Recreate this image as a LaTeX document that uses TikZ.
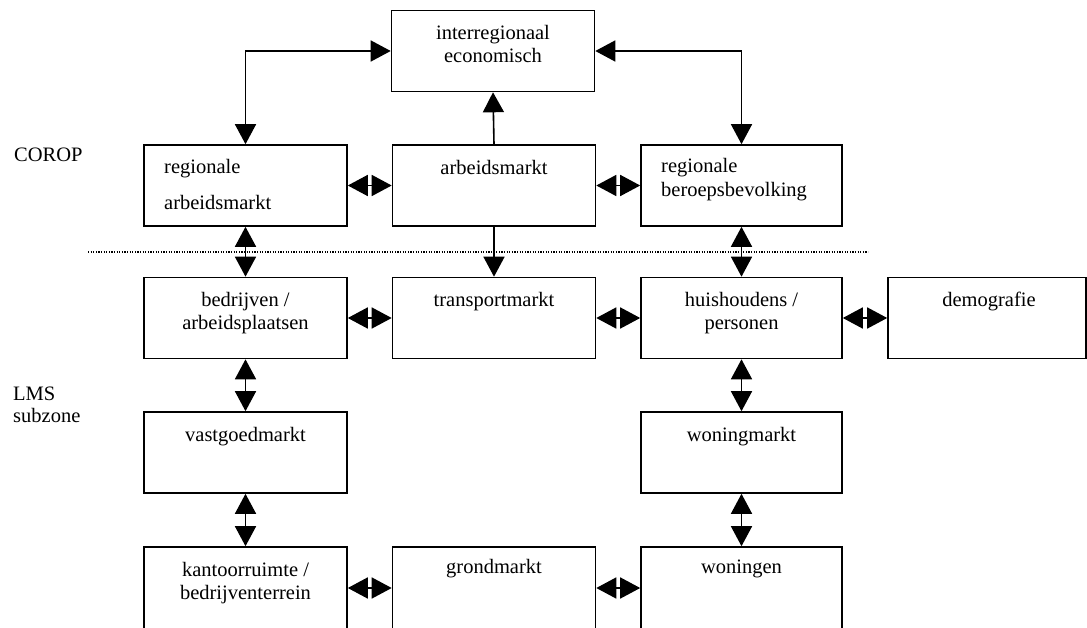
\documentclass[tikz,border=0pt]{standalone}
\usepackage{fontspec}
\setmainfont{Liberation Serif}
\usetikzlibrary{arrows.meta}
\begin{document}
\begin{tikzpicture}[x=1pt,y=-1pt,
  box/.style={draw,line width=1.6pt,inner sep=0pt,minimum width=203pt,minimum height=81pt},
  lbl/.style={inner sep=0pt,font=\fontsize{20.5}{23}\selectfont},
  dbl/.style={line width=1.6pt,{Triangle[length=20pt,width=21pt]}-{Triangle[length=20pt,width=21pt]}},
  sgl/.style={line width=1.6pt,-{Triangle[length=20pt,width=21pt]}}]
\useasboundingbox (0,0) rectangle (1087,628);
% boxes
\node[box] (R0) at (493,51) {};
\node[box] (A1) at (245.5,185.5) {};
\node[box] (B1) at (494,185.5) {};
\node[box,minimum width=201pt] (C1) at (741.5,185.5) {};
\node[box] (A2) at (245.5,318) {};
\node[box] (B2) at (494,318) {};
\node[box,minimum width=201pt] (C2) at (741.5,318) {};
\node[box,minimum width=198pt] (D2) at (987,318) {};
\node[box] (A3) at (245.5,452.5) {};
\node[box,minimum width=201pt] (C3) at (741.5,452.5) {};
\node[box,minimum height=82pt] (A4) at (245.5,588) {};
\node[box,minimum height=82pt] (B4) at (494,588) {};
\node[box,minimum width=201pt,minimum height=82pt] (C4) at (741.5,588) {};
% texts
\node[lbl,anchor=base] (t0a) at (493,39.5) {interregionaal};
\node[lbl,anchor=base] (t0b) at (493,62.5) {economisch};
\node[lbl,anchor=base west] (ta1a) at (164,174) {regionale};
\node[lbl,anchor=base west] (ta1b) at (164,210) {arbeidsmarkt};
\node[lbl,anchor=base] (tb1) at (494,175) {arbeidsmarkt};
\node[lbl,anchor=base west] (tc1a) at (661,173) {regionale};
\node[lbl,anchor=base west] (tc1b) at (661,197) {beroepsbevolking};
\node[lbl,anchor=base] (ta2a) at (245.5,307) {bedrijven /};
\node[lbl,anchor=base] (ta2b) at (245.5,330) {arbeidsplaatsen};
\node[lbl,anchor=base] (tb2) at (494,307) {transportmarkt};
\node[lbl,anchor=base] (tc2a) at (741.5,307) {huishoudens /};
\node[lbl,anchor=base] (tc2b) at (741.5,330) {personen};
\node[lbl,anchor=base] (td2) at (989,307) {demografie};
\node[lbl,anchor=base] (ta3) at (245.5,441.5) {vastgoedmarkt};
\node[lbl,anchor=base] (tc3) at (741.5,441.5) {woningmarkt};
\node[lbl,anchor=base] (ta4a) at (245.5,576.5) {kantoorruimte /};
\node[lbl,anchor=base] (ta4b) at (245.5,599.5) {bedrijventerrein};
\node[lbl,anchor=base] (tb4) at (494,573) {grondmarkt};
\node[lbl,anchor=base] (tc4) at (741.5,573) {woningen};
% side labels
\node[lbl,anchor=base west] (corop) at (14,162) {COROP};
\node[lbl,anchor=base west] (lms) at (13,400) {LMS};
\node[lbl,anchor=base west] (subz) at (13,422) {subzone};
% dotted separator
\coordinate (dl) at (88,252);
\coordinate (dr) at (868,252);
\draw[line width=1.3pt,dash pattern=on 1.2pt off 1.4pt] (dl) -- (dr);
% connectors
\draw[dbl] (A1.north) |- (R0.west);
\draw[dbl] (R0.east) -| (C1.north);
\draw[sgl] (B1.north) -- (R0.south);
\draw[sgl] (B1.south) -- (B2.north);
\draw[dbl] (A1.east) -- (B1.west);
\draw[dbl] (B1.east) -- (C1.west);
\draw[dbl] (A2.east) -- (B2.west);
\draw[dbl] (B2.east) -- (C2.west);
\draw[dbl] (C2.east) -- (D2.west);
\draw[dbl] (A4.east) -- (B4.west);
\draw[dbl] (B4.east) -- (C4.west);
\draw[dbl] (A1.south) -- (A2.north);
\draw[dbl] (C1.south) -- (C2.north);
\draw[dbl] (A2.south) -- (A3.north);
\draw[dbl] (A3.south) -- (A4.north);
\draw[dbl] (C2.south) -- (C3.north);
\draw[dbl] (C3.south) -- (C4.north);
\end{tikzpicture}
\end{document}
